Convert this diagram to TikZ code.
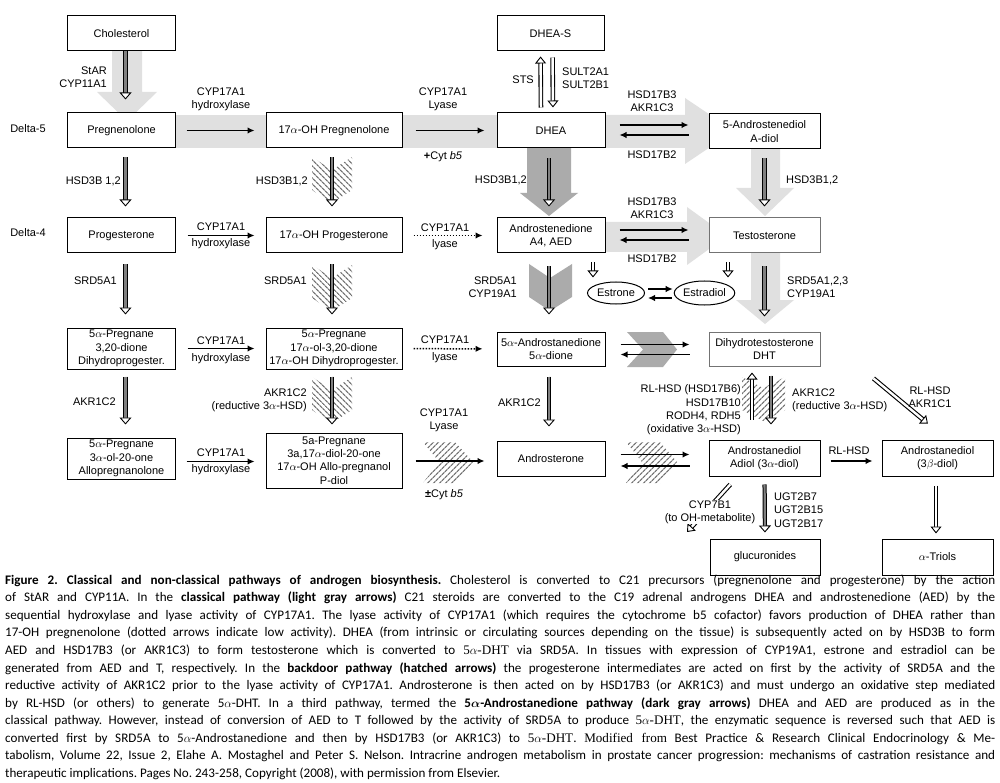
\documentclass[tikz,border=0pt]{standalone}
\usepackage{amsmath}
\usepackage{fontspec}
\setmainfont{Liberation Sans}
\newfontfamily\capfont{Carlito}
\newfontfamily\capserif{Liberation Serif}
\usetikzlibrary{arrows.meta,patterns.meta,shapes.geometric}

\newcommand{\serifdht}{{\capserif 5$\alpha$-DHT}}

\begin{document}
\begin{tikzpicture}[x=1pt, y=-1pt,
    every node/.style={font=\fontsize{11}{13.3}\selectfont, align=center, inner sep=1pt},
    box/.style={rectangle, draw, line width=1pt, fill=white,
                minimum width=108pt, minimum height=35pt, inner sep=0pt},
    palebox/.style={box, draw=black!55},
    oval/.style={ellipse, draw, line width=1pt, fill=white,
                 minimum width=57pt, minimum height=22pt, inner sep=0pt},
    classic/.style={fill=black!12},
    darkway/.style={fill=black!33},
    backdoor/.style={pattern={Lines[angle=#1, distance=4pt, line width=1.3pt]}, pattern color=black!55},
    rxn/.style={line width=1.5pt, -{Latex[length=7pt, width=6.5pt]}},
    weak/.style={rxn, dash pattern=on 1.6pt off 1.4pt},
    fat/.style={line width=4.2pt, draw=black, shorten >=#1+5pt,
        postaction={draw=black!50, line width=2.2pt, shorten >=#1+5pt},
        postaction={draw=black!50, line width=0.1pt, shorten >=#1,
            -{Triangle[length=7pt, width=12pt, color=black, fill=white, line width=0.9pt]}}},
    hollow/.style={line width=4.6pt, draw=black, shorten >=#1+5pt,
        postaction={draw=white, line width=2.4pt, shorten >=#1+5pt},
        postaction={draw=white, line width=0.1pt, shorten >=#1,
            -{Triangle[length=7pt, width=11pt, color=black, fill=white, line width=0.9pt]}}}
]
\fill[white] (0,0) rectangle (1000,783);
\useasboundingbox (0,0) rectangle (1000,783);

% classical pathway (light gray)
\fill[classic] (112,51) -- (142,51) -- (142,92) -- (157,92) -- (127,121) -- (97,92) -- (112,92) -- cycle;
\fill[classic] (175,115) rectangle (266,148);
\fill[classic] (402,115) rectangle (497,148);
\fill[classic] (605,115) -- (685,115) -- (685,98) -- (734,131) -- (685,164) -- (685,148) -- (605,148) -- cycle;
\fill[classic] (605,222) -- (687,222) -- (687,207) -- (727,236) -- (687,265) -- (687,252) -- (605,252) -- cycle;
\fill[classic] (751,149) -- (780,149) -- (780,188) -- (794,188) -- (765,216) -- (736,188) -- (751,188) -- cycle;
\fill[classic] (751,253) -- (780,253) -- (780,300) -- (794,300) -- (765,324) -- (736,300) -- (751,300) -- cycle;

% 5alpha-androstanedione pathway (dark gray)
\fill[darkway] (527,148) -- (571,148) -- (571,193) -- (578,193) -- (549,216) -- (520,193) -- (527,193) -- cycle;
\fill[darkway] (529,264) -- (550,278) -- (572,264) -- (572,297) -- (550,311) -- (529,297) -- cycle;
\fill[darkway] (627,332) -- (663,332) -- (677,349.5) -- (663,367) -- (627,367) -- (643,349.5) -- cycle;

% backdoor pathway (hatched)
\path[backdoor=-45] (312,157) -- (332,170) -- (352,157) -- (352,190) -- (332,203) -- (312,190) -- cycle;
\path[backdoor=-45] (312,265) -- (332,278) -- (352,265) -- (352,298) -- (332,311) -- (312,298) -- cycle;
\path[backdoor=-45] (312,377) -- (332,390) -- (352,377) -- (352,410) -- (332,423) -- (312,410) -- cycle;
\path[backdoor=45] (423,442) -- (455,442) -- (473,462) -- (455,483) -- (423,483) -- (439,462) -- cycle;
\path[backdoor=45] (626,442) -- (660,442) -- (677,462) -- (660,483) -- (626,483) -- (642,462) -- cycle;
\path[backdoor=45] (742,377) -- (763,388) -- (785,377) -- (785,410) -- (763,421) -- (742,410) -- cycle;

% steroids
\node[box] (chol) at (121.5,33.5) {Cholesterol};
\node[box] (preg) at (121.5,130.5) {Pregnenolone};
\node[box, minimum width=136pt] (ohpreg) at (334,130.5) {17$\alpha$-OH Pregnenolone};
\node[box, minimum width=107pt] (dheas) at (550.5,33.5) {DHEA-S};
\node[box] (dhea) at (551,130.5) {DHEA};
\node[box, minimum width=111pt] (adiol5) at (764.5,131.5) {5-Androstenediol\\A-diol};
\node[box] (prog) at (121.5,235.5) {Progesterone};
\node[box, minimum width=136pt] (ohprog) at (334,235.5) {17$\alpha$-OH Progesterone};
\node[box] (aed) at (551,235.5) {Androstenedione\\A4, AED};
\node[palebox, minimum width=111pt] (testo) at (764.5,235.5) {Testosterone};
\node[box, minimum height=41pt] (dhprog) at (121.5,348.5) {5$\alpha$-Pregnane\\3,20-dione\\Dihydroprogester.};
\node[box, minimum width=136pt, minimum height=41pt] (ohdhprog) at (334,348.5) {5$\alpha$-Pregnane\\17$\alpha$-ol-3,20-dione\\17$\alpha$-OH Dihydroprogester.};
\node[box, minimum height=34pt] (adione) at (551,349) {5$\alpha$-Androstanedione\\5$\alpha$-dione};
\node[palebox, minimum width=111pt, minimum height=34pt] (dht) at (764.5,349) {Dihydrotestosterone\\DHT};
\node[box, minimum height=41pt] (allo) at (121.5,458.5) {5$\alpha$-Pregnane\\3$\alpha$-ol-20-one\\Allopregnanolone};
\node[box, minimum width=136pt, minimum height=55pt] (pdiol) at (334,460.5) {5a-Pregnane\\3a,17$\alpha$-diol-20-one\\17$\alpha$-OH Allo-pregnanol\\P-diol};
\node[box] (andro) at (551,458.5) {Androsterone};
\node[box, minimum width=111pt, minimum height=36pt] (adiol) at (764.5,458) {Androstanediol\\Adiol (3$\alpha$-diol)};
\node[box, minimum width=111pt, minimum height=36pt] (bdiol) at (937.5,458) {Androstanediol\\(3$\beta$-diol)};
\node[box, minimum width=110pt, minimum height=36pt] (gluc) at (765,557) {glucuronides};
\node[box, minimum width=111pt, minimum height=36pt] (triol) at (937.5,557) {$\alpha$-Triols};
\node[oval] (estrone) at (616,293) {Estrone};
\node[oval, minimum height=24pt] (estradiol) at (704.5,293) {Estradiol};

% vertical conversions
\draw[fat=13pt] ([xshift=4pt]chol.south) -- ([xshift=4pt]preg.north);
\draw[fat=11pt, shorten <=9pt] ([xshift=4pt]preg.south) -- ([xshift=4pt]prog.north);
\draw[fat=13pt, shorten <=11pt] ([xshift=4pt]prog.south) -- ([xshift=4pt]dhprog.north);
\draw[fat=13pt, shorten <=7pt] ([xshift=4pt]dhprog.south) -- ([xshift=4pt]allo.north);
\draw[fat=11pt, shorten <=9pt] ([xshift=-2pt]ohpreg.south) -- ([xshift=-2pt]ohprog.north);
\draw[fat=13pt, shorten <=11pt] ([xshift=-2pt]ohprog.south) -- ([xshift=-2pt]ohdhprog.north);
\draw[fat=8pt, shorten <=7pt] ([xshift=-2pt]ohdhprog.south) -- ([xshift=-2pt]pdiol.north);
\draw[fat=11pt, shorten <=10pt] ([xshift=-2pt]dhea.south) -- ([xshift=-2pt]aed.north);
\draw[fat=17pt, shorten <=13pt] ([xshift=-2pt]aed.south) -- ([xshift=-2pt]adione.north);
\draw[fat=14pt, shorten <=10pt] ([xshift=-2pt]adione.south) -- ([xshift=-2pt]andro.north);
\draw[fat=11pt, shorten <=9pt] (adiol5.south) -- (testo.north);
\draw[fat=15pt, shorten <=13pt] (testo.south) -- (dht.north);
\draw[fat=15pt, shorten <=9pt] ([xshift=6.5pt]dht.south) -- ([xshift=6.5pt]adiol.north);
\draw[hollow=6pt, shorten <=20pt] ([xshift=-12.5pt]adiol.north) -- ([xshift=-12.5pt]dht.south);
\draw[fat=6pt, shorten <=8pt] (adiol.south) -- (gluc.north);
\draw[hollow=5pt, shorten <=9pt] ([xshift=-1.5pt]bdiol.south) -- ([xshift=-1.5pt]triol.north);
\draw[hollow=5pt, shorten <=5pt] ([xshift=-10pt]dhea.north) -- ([xshift=-10pt]dheas.south);
\draw[hollow=5pt, shorten <=6pt] ([xshift=2pt]dheas.south) -- ([xshift=2pt]dhea.north);
\draw[hollow=0pt, shorten <=9pt] ([xshift=42pt]aed.south) -- ++(0,24);
\draw[hollow=0pt, shorten <=9pt] ([xshift=-36.5pt]testo.south) -- ++(0,24);
\draw[hollow=24.8pt, shorten <=18.7pt] ([xshift=38.6pt]dht.south east) -- ([xshift=9.5pt]bdiol.north);
\coordinate (ohmet) at (687,532);
\draw[hollow=0pt, shorten <=10.8pt] ([xshift=29pt]adiol.south west) -- (ohmet);

% horizontal conversions
\draw[rxn, shorten <=10.5pt, shorten >=11pt] (preg) -- (ohpreg);
\draw[rxn, shorten <=13pt, shorten >=12pt] (ohpreg) -- (dhea);
\draw[rxn, shorten <=14pt, shorten >=20pt] ([yshift=5.5pt]dhea.east) -- ([yshift=5.5pt]dhea.east -| adiol5.west);
\draw[rxn, shorten <=20pt, shorten >=14pt] ([yshift=-4.5pt]dhea.east -| adiol5.west) -- ([yshift=-4.5pt]dhea.east);
\draw[rxn, shorten <=11.5pt, shorten >=11pt] (prog) -- (ohprog);
\draw[weak, shorten <=11pt, shorten >=14pt] (ohprog) -- (aed);
\draw[rxn, shorten <=14pt, shorten >=20pt] ([yshift=5.5pt]aed.east) -- ([yshift=5.5pt]testo.west);
\draw[rxn, shorten <=20pt, shorten >=14pt] ([yshift=-4.5pt]testo.west) -- ([yshift=-4.5pt]aed.east);
\draw[rxn, shorten <=3pt, shorten >=1pt] ([yshift=4pt]estrone.east) -- ([yshift=4pt]estradiol.west);
\draw[rxn, shorten <=2pt, shorten >=3pt] ([yshift=-5pt]estradiol.west) -- ([yshift=-5pt]estrone.east);
\draw[rxn, shorten <=11.5pt, shorten >=11pt] (dhprog) -- (ohdhprog);
\draw[weak, shorten <=11pt, shorten >=14pt] (ohdhprog) -- (adione);
\draw[rxn, shorten <=15pt, shorten >=19pt] ([yshift=4.5pt]adione.east) -- ([yshift=4.5pt]dht.west);
\draw[rxn, shorten <=19pt, shorten >=15pt] ([yshift=-5.5pt]dht.west) -- ([yshift=-5.5pt]adione.east);
\draw[rxn, shorten <=10.5pt, shorten >=11pt] ([yshift=-3pt]allo.east) -- ([yshift=-3pt]allo.east -| pdiol.west);
\draw[rxn, shorten <=13pt, shorten >=12pt] ([yshift=-2.5pt]andro.west -| pdiol.east) -- ([yshift=-2.5pt]andro.west);
\draw[rxn, shorten <=15pt, shorten >=19pt] ([yshift=4pt]andro.east) -- ([yshift=4pt]andro.east -| adiol.west);
\draw[rxn, shorten <=19pt, shorten >=15pt] ([yshift=-7.5pt]andro.east -| adiol.west) -- ([yshift=-7.5pt]andro.east);
\draw[rxn, shorten <=10pt, shorten >=9pt] ([yshift=-3pt]adiol.east) -- ([yshift=-3pt]bdiol.west);

% enzymes
\node (d5lab) at (28,129) {Delta-5};
\node (d4lab) at (28,233) {Delta-4};
\node[anchor=east, align=right] (starlab) at (108,77) {StAR\\CYP11A1};
\node (hyd1lab) at (221,99) {CYP17A1\\hydroxylase};
\node (lya1lab) at (443,99) {CYP17A1\\Lyase};
\node (cyt1lab) at (443,157) {{\bfseries +}Cyt \textit{b5}};
\node (hsd1lab) at (652,101) {HSD17B3\\AKR1C3};
\node (hsdb1lab) at (652,155) {HSD17B2};
\node[anchor=east] (stslab) at (535,80) {STS};
\node[anchor=west, align=left] (sultlab) at (561,78) {SULT2A1\\SULT2B1};
\node[anchor=east] (hsd3alab) at (122,181) {HSD3B 1,2};
\node[anchor=east] (hsd3blab) at (309,181) {HSD3B1,2};
\node[anchor=east] (hsd3clab) at (528,180) {HSD3B1,2};
\node[anchor=west] (hsd3dlab) at (785,180) {HSD3B1,2};
\node (cyp2lab) at (221,227) {CYP17A1};
\node (hyd2lab) at (221,244) {hydroxylase};
\node (cyp2blab) at (445,228) {CYP17A1};
\node (lya2lab) at (445,245) {lyase};
\node (hsd2lab) at (652,208) {HSD17B3\\AKR1C3};
\node (hsdb2lab) at (652,259) {HSD17B2};
\node[anchor=east] (srdalab) at (118,281) {SRD5A1};
\node[anchor=east] (srdblab) at (308,281) {SRD5A1};
\node[anchor=east, align=right] (srdclab) at (518,287) {SRD5A1\\CYP19A1};
\node[anchor=west, align=left] (srddlab) at (786,287) {SRD5A1,2,3\\CYP19A1};
\node (cyp3lab) at (221,341) {CYP17A1};
\node (hyd3lab) at (221,359) {hydroxylase};
\node (cyp3blab) at (445,340) {CYP17A1};
\node (lya3lab) at (445,358) {lyase};
\node[anchor=east] (akralab) at (117,402) {AKR1C2};
\node[anchor=east, align=right] (akrblab) at (308,400) {AKR1C2\\(reductive 3$\alpha$-HSD)};
\node[anchor=east] (akrclab) at (542,403) {AKR1C2};
\node[anchor=east, align=right] (rlhsdlab) at (742,410) {RL-HSD (HSD17B6)\\HSD17B10\\RODH4, RDH5\\(oxidative 3$\alpha$-HSD)};
\node[anchor=west, align=left] (akrdlab) at (791,400) {AKR1C2\\(reductive 3$\alpha$-HSD)};
\node (akr1c1lab) at (930,397) {RL-HSD\\AKR1C1};
\node (cyp4lab) at (221,453) {CYP17A1};
\node (hyd4lab) at (221,470) {hydroxylase};
\node (lya4lab) at (444,420) {CYP17A1\\Lyase};
\node (cyt4lab) at (444,495) {{\bfseries ±}Cyt \textit{b5}};
\node (rl3blab) at (849,451) {RL-HSD};
\node[fill=white, inner sep=0.5pt] (cyp7lab) at (710,512) {CYP7B1\\(to OH-metabolite)};
\node[anchor=west, align=left] (ugtlab) at (773,510) {UGT2B7\\UGT2B15\\UGT2B17};

% caption
\node[anchor=north west, text width=990pt, align=justify, inner sep=0pt,
      font=\capfont\fontsize{13.1}{17.55}\selectfont] (caption) at (5,574.5) {%
\frenchspacing\spaceskip=0pt \xspaceskip=0pt
\makebox[990pt][s]{\textbf{Figure 2. Classical and non-classical pathways of androgen biosynthesis.} Cholesterol is converted to C21 precursors (pregnenolone and progesterone) by the action}\\
\makebox[990pt][s]{of StAR and CYP11A. In the \textbf{classical pathway (light gray arrows)} C21 steroids are converted to the C19 adrenal androgens DHEA and androstenedione (AED) by the}\\
\makebox[990pt][s]{sequential hydroxylase and lyase activity of CYP17A1. The lyase activity of CYP17A1 (which requires the cytochrome b5 cofactor) favors production of DHEA rather than}\\
\makebox[990pt][s]{17-OH pregnenolone (dotted arrows indicate low activity). DHEA (from intrinsic or circulating sources depending on the tissue) is subsequently acted on by HSD3B to form}\\
\makebox[990pt][s]{AED and HSD17B3 (or AKR1C3) to form testosterone which is converted to \serifdht{} via SRD5A. In tissues with expression of CYP19A1, estrone and estradiol can be}\\
\makebox[990pt][s]{generated from AED and T, respectively. In the \textbf{backdoor pathway (hatched arrows)} the progesterone intermediates are acted on first by the activity of SRD5A and the}\\
\makebox[990pt][s]{reductive activity of AKR1C2 prior to the lyase activity of CYP17A1. Androsterone is then acted on by HSD17B3 (or AKR1C3) and must undergo an oxidative step mediated}\\
\makebox[990pt][s]{by RL-HSD (or others) to generate 5$\alpha$-DHT. In a third pathway, termed the \textbf{5$\boldsymbol{\alpha}$-Androstanedione pathway (dark gray arrows)} DHEA and AED are produced as in the}\\
\makebox[990pt][s]{classical pathway. However, instead of conversion of AED to T followed by the activity of SRD5A to produce \serifdht, the enzymatic sequence is reversed such that AED is}\\
\makebox[990pt][s]{converted first by SRD5A to 5$\alpha$-Androstanedione and then by HSD17B3 (or AKR1C3) to \serifdht. {\capserif Modified from} Best Practice \& Research Clinical Endocrinology \& Me-}\\
\makebox[990pt][s]{tabolism, Volume 22, Issue 2, Elahe A. Mostaghel and Peter S. Nelson. Intracrine androgen metabolism in prostate cancer progression: mechanisms of castration resistance and}\\
therapeutic implications. Pages No. 243-258, Copyright (2008), with permission from Elsevier.};
\end{tikzpicture}
\end{document}
